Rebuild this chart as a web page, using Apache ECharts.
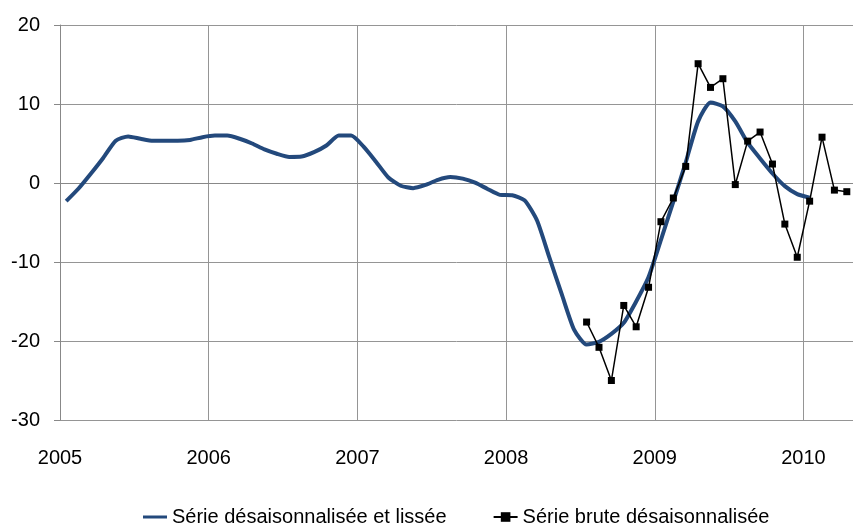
<!DOCTYPE html>
<html>
<head>
<meta charset="utf-8">
<script src="https://cdn.jsdelivr.net/npm/echarts@6/dist/echarts.min.js"></script>
<style>
  html, body { margin: 0; padding: 0; background: #fff; }
  #chart { width: 853px; height: 532px; }
</style>
</head>
<body>
<div id="chart"></div>
<script>
// séries mensuelles, janvier 2005 = mois 0
var startYear = 2005;
var nbMonths = 64;

// série lissée : janvier 2005 -> janvier 2010
var lissee = [
  -2.3, -0.7, 1.2, 3.2, 5.35, 5.9, 5.6, 5.35, 5.35, 5.35, 5.45, 5.8,
  6.0, 6.0, 5.6, 5.0, 4.25, 3.7, 3.3, 3.35, 3.9, 4.75, 6.0, 6.0,
  4.6, 2.7, 0.7, -0.35, -0.65, -0.25, 0.4, 0.75, 0.55, 0.05, -0.75, -1.5,
  -1.55, -2.2, -4.75, -9.45, -14.1, -18.6, -20.45, -20.1, -19.1, -17.7, -15.0, -11.9,
  -7.2, -2.35, 2.6, 7.8, 10.2, 9.7, 7.8, 5.1, 3.1, 1.2, -0.4, -1.4,
  -1.85
];

// série brute : juillet 2008 -> avril 2010
var bruteStart = 42;
var brute = [
  -17.6, -20.8, -25.0, -15.5, -18.2, -13.2,
  -4.9, -1.9, 2.1, 15.1, 12.1, 13.2, -0.2, 5.3, 6.45, 2.4, -5.2, -9.4,
  -2.3, 5.8, -0.9, -1.1
];

var yTicks = [-30, -20, -10, 0, 10, 20];

// points au milieu du mois
var toPoints = (vals, offset) => vals.map((v, i) => [offset + i + 0.5, v]);

var font = '"Liberation Sans Narrow", "Arial Narrow", "Liberation Sans", sans-serif';
var chart = echarts.init(document.getElementById('chart'));

chart.setOption({
  animation: false,
  textStyle: { fontFamily: font },
  grid: { left: 60, right: 0, top: 25, bottom: 112, containLabel: false },
  legend: {
    bottom: 0,
    left: 138,
    itemGap: 46,
    itemWidth: 24,
    itemHeight: 12,
    textStyle: { fontFamily: font, fontSize: 20, color: '#000' },
    data: [
      { name: 'Série désaisonnalisée et lissée', icon: 'path://M0,5 L24,5 L24,8 L0,8 Z' },
      { name: 'Série brute désaisonnalisée' }
    ]
  },
  xAxis: {
    type: 'value',
    min: 0,
    max: nbMonths,
    interval: 12,
    axisLine: { show: true, lineStyle: { color: '#888', width: 1 } },
    axisTick: { show: false },
    splitLine: { show: true, lineStyle: { color: '#959595', width: 1 } },
    axisLabel: {
      margin: 28,
      fontSize: 20,
      color: '#000',
      fontFamily: font,
      showMaxLabel: false,
      formatter: v => (v % 12 === 0 ? String(startYear + v / 12) : '')
    }
  },
  yAxis: {
    type: 'value',
    min: yTicks[0],
    max: yTicks[yTicks.length - 1],
    interval: 10,
    axisLine: { show: true, lineStyle: { color: '#888', width: 1 } },
    axisTick: { show: true, inside: false, length: 6, lineStyle: { color: '#888' } },
    splitLine: { show: true, lineStyle: { color: '#959595', width: 1 } },
    axisLabel: { margin: 20, fontSize: 20, color: '#000', fontFamily: font }
  },
  series: [
    {
      name: 'Série désaisonnalisée et lissée',
      type: 'line',
      data: toPoints(lissee, 0),
      smooth: 0.2,
      showSymbol: false,
      symbol: 'none',
      itemStyle: { color: '#23497c' },
      lineStyle: { color: '#23497c', width: 4 },
      z: 2
    },
    {
      name: 'Série brute désaisonnalisée',
      type: 'line',
      data: toPoints(brute, bruteStart),
      symbol: 'rect',
      symbolSize: 7,
      itemStyle: { color: '#000' },
      lineStyle: { color: '#000', width: 1.5 },
      z: 3
    }
  ]
});
</script>
</body>
</html>
